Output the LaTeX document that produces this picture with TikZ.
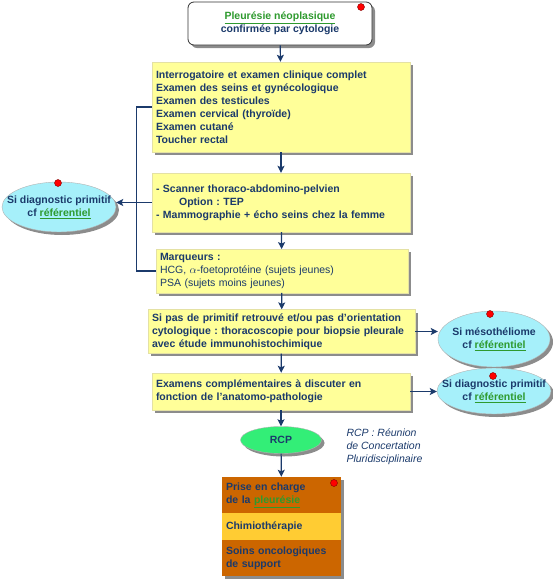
\documentclass[tikz,border=0pt]{standalone}
\usepackage{fontspec}
\setmainfont{Liberation Sans}
\usetikzlibrary{shapes.geometric}
\usetikzlibrary{shadows}
\usetikzlibrary{arrows.meta}
\usetikzlibrary{calc}
\definecolor{navy}{HTML}{1B3A6B}
\definecolor{refgreen}{HTML}{2E9A2E}
\definecolor{boxyellow}{HTML}{FFFF99}
\definecolor{ovalcyan}{HTML}{A6F0FA}
\definecolor{rcpgreen}{HTML}{33EE77}
\definecolor{brownbox}{HTML}{CC6600}
\definecolor{goldbox}{HTML}{FFCC33}
\newcommand{\refl}[1]{\textcolor{refgreen}{\underline{#1}}}
\frenchspacing

\begin{document}
\begin{tikzpicture}[x=1pt, y=-1pt, >={Stealth[length=7pt,width=7pt,inset=1.5pt]}, font=\fontsize{10.5}{13}\selectfont\bfseries, text=navy,
    shade/.style={drop shadow={shadow xshift=3pt, shadow yshift=-3pt, fill=black!45, opacity=1}},
    yellowbox/.style={shade, draw=yellow!70!black!40, fill=boxyellow, align=left, inner sep=4pt},
    oval/.style={shade, ellipse, draw=black!30, fill=ovalcyan, inner sep=0pt},
    stackbox/.style={shade, fill=#1, minimum width=119pt, text width=111pt, align=left, inner sep=4pt},
    reddot/.style={circle, draw=red!50!black, fill=red, minimum size=7pt, inner sep=0pt},
    link/.style={draw=navy, line width=1.2pt}]
    \useasboundingbox (0,0) rectangle (553,579);
    % main column
    \node [shade, draw=black!80, fill=white, rounded corners=6pt, thick, minimum width=184pt, minimum height=43pt, align=center] (pleur) at (280,23.5)
        {\refl{Pleurésie néoplasique}\\confirmée par cytologie};
    \node [yellowbox, minimum width=258pt, minimum height=90pt, text width=250pt] (clin) at (281,107)
        {Interrogatoire et examen clinique complet\\Examen des seins et gynécologique\\Examen des testicules\\Examen cervical (thyroïde)\\Examen cutané\\Toucher rectal};
    \node [yellowbox, minimum width=258pt, minimum height=59pt, text width=250pt] (scan) at (281,202.5)
        {- Scanner thoraco-abdomino-pelvien\\\hspace*{2.2em}Option : TEP\\- Mammographie + écho seins chez la femme};
    \node [yellowbox, minimum width=252pt, minimum height=36pt, text width=244pt] (marq) at (282,271)
        {Marqueurs :\\\mdseries HCG, $\alpha$-foetoprotéine (sujets jeunes)\\\mdseries PSA (sujets moins jeunes)};
    \node [yellowbox, minimum width=267pt, minimum height=41pt, text width=259pt] (thor) at (281.5,331.5)
        {Si pas de primitif retrouvé et/ou pas d’orientation\\cytologique : thoracoscopie pour biopsie pleurale\\avec étude immunohistochimique};
    \node [yellowbox, minimum width=258pt, minimum height=37pt, text width=250pt] (compl) at (281,391.5)
        {Examens complémentaires à discuter en\\fonction de l’anatomo-pathologie};
    \node [shade, ellipse, draw=black!30, fill=rcpgreen, minimum width=81pt, minimum height=27pt, inner sep=0pt] (rcp) at (281,440) {};
    \node (rcptext) at (rcp) {RCP};
    % side ovals
    \node [oval, minimum width=114pt, minimum height=50pt] (primL) at (59,207) {};
    \node [align=center] (primLtext) at (primL) {Si diagnostic primitif\\cf \refl{référentiel}};
    \node [oval, minimum width=112pt, minimum height=56pt] (meso) at (494,339) {};
    \node [align=center] (mesotext) at (meso) {Si mésothéliome\\cf \refl{référentiel}};
    \node [oval, minimum width=114pt, minimum height=46pt] (primR) at (494,391) {};
    \node [align=center] (primRtext) at (primR) {Si diagnostic primitif\\cf \refl{référentiel}};
    % management stack
    \node [stackbox=brownbox, minimum height=36pt] (prise) at (281.5,495) {Prise en charge\\de la \refl{pleurésie}};
    \node [stackbox=goldbox, minimum height=27pt] (chimio) at (281.5,526.5) {Chimiothérapie};
    \node [stackbox=brownbox, minimum height=36pt] (soins) at (281.5,558) {Soins oncologiques\\de support};
    \node [anchor=north west, align=left, font=\fontsize{10.5}{13}\selectfont\itshape] (note) at (343,425)
        {RCP : Réunion\\de Concertation\\Pluridisciplinaire};
    % red dots
    \node [reddot] (dot1) at (361,7) {};
    \node [reddot] (dot2) at (58,183) {};
    \node [reddot] (dot3) at (490,314) {};
    \node [reddot] (dot4) at (493,376) {};
    \node [reddot] (dot5) at (334,483) {};
    % connectors
    \draw[->, link] (pleur) -- (clin);
    \draw[->, link] (clin) -- (scan);
    \draw[->, link] (scan) -- (marq);
    \draw[->, link] (marq) -- (thor);
    \draw[->, link] (thor) -- (compl);
    \draw[->, link] (compl) -- (rcp);
    \draw[->, link] (rcp) -- (prise);
    \draw[link] (clin.west) -- ++(-15,0) |- (marq.west);
    \draw[->, link] (scan.west) -- (scan.west -| primL.east);
    \draw[->, link] (thor.east) -- (thor.east -| meso.west);
    \draw[->, link] (compl.east) -- (compl.east -| primR.west);
\end{tikzpicture}
\end{document}
